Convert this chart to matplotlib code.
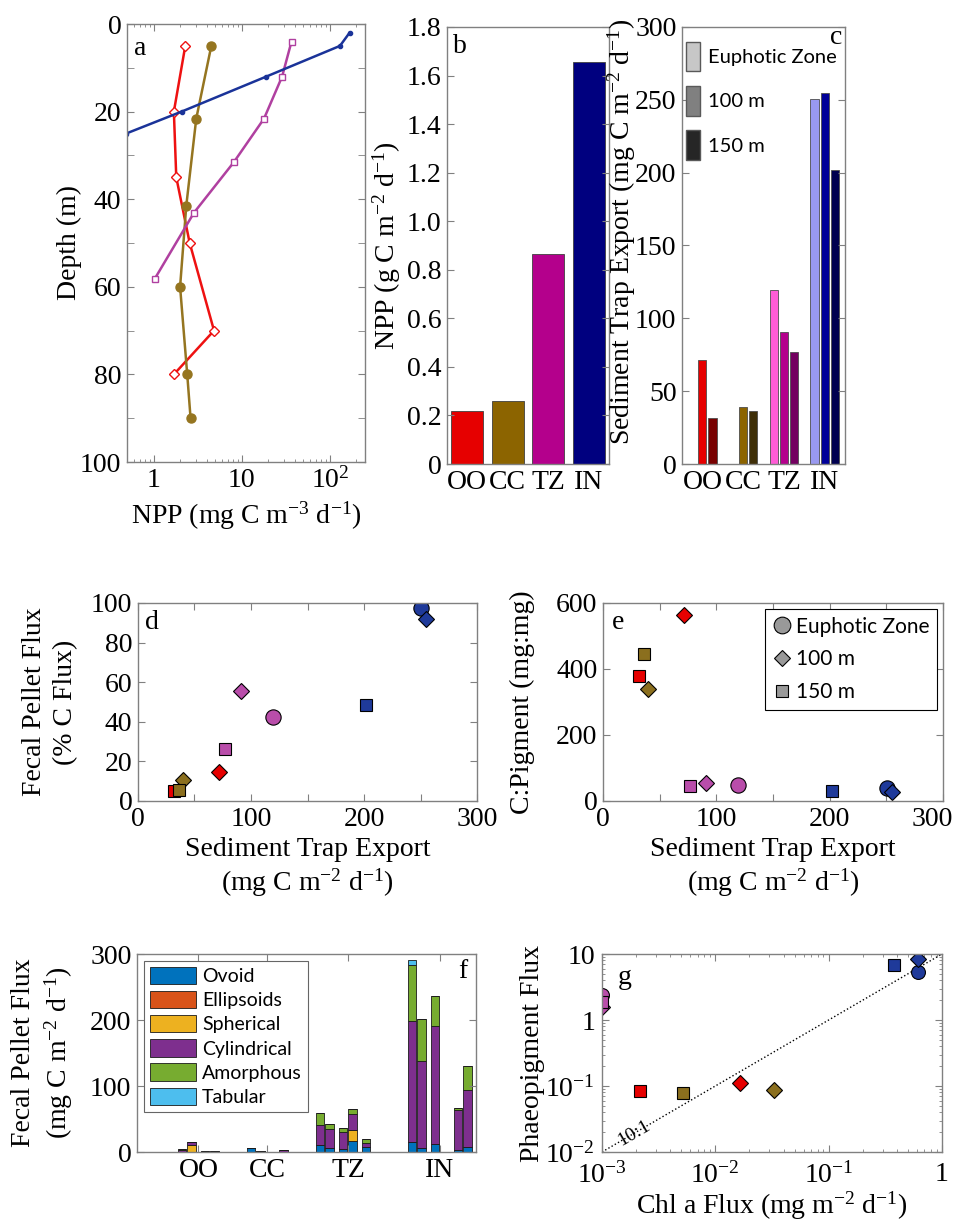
import numpy as np
import matplotlib
matplotlib.use('Agg')
import matplotlib.pyplot as plt
from matplotlib.patches import Patch
from matplotlib.lines import Line2D
from matplotlib.ticker import LogLocator, NullFormatter
from matplotlib.transforms import ScaledTranslation

plt.rcParams['font.family'] = ['Liberation Serif', 'DejaVu Serif']
plt.rcParams['mathtext.fontset'] = 'custom'
plt.rcParams['mathtext.rm'] = 'Liberation Serif'
plt.rcParams['mathtext.it'] = 'Liberation Serif:italic'
plt.rcParams['font.size'] = 20
plt.rcParams['axes.edgecolor'] = '0.5'
plt.rcParams['axes.linewidth'] = 1.0
plt.rcParams['xtick.color'] = '0.5'
plt.rcParams['ytick.color'] = '0.5'
plt.rcParams['xtick.labelcolor'] = 'black'
plt.rcParams['ytick.labelcolor'] = 'black'
SANS = ['Lato', 'DejaVu Sans']

nan = np.nan
regions = ['OO', 'CC', 'TZ', 'IN']

# (a) NPP profiles (mg C m-3 d-1) vs depth (m)
oo_npp = [2.29, 1.70, 1.81, 2.57, 4.85, 1.70]
oo_depth = [5, 20, 35, 50, 70, 80]
cc_npp = [4.52, 3.05, 2.35, 2.0, 2.41, 2.63]
cc_depth = [5, 21.6, 41.5, 60, 80, 90]
tz_npp = [36.7, 28.7, 17.9, 8.1, 2.87, 1.03]
tz_depth = [4, 12, 21.6, 31.6, 43.1, 58.2]
in_npp = [167, 130, 19, 2.08, 0.49]
in_depth = [2, 5, 12, 20, 25]

# (b) integrated NPP (g C m-2 d-1)
npp_int = [0.22, 0.26, 0.865, 1.655]

# (c) sediment trap export (mg C m-2 d-1): euphotic zone, 100 m, 150 m
export_ez = [nan, nan, 119.5, 250.7]
export_100 = [71.5, 39.4, 90.9, 254.9]
export_150 = [31.5, 36.2, 76.7, 202.0]

# (d) fecal pellet flux (% C flux)
fp_pct_ez = [nan, nan, 42.4, 97.6]
fp_pct_100 = [14.6, 10.4, 55.6, 92.1]
fp_pct_150 = [5.0, 5.7, 26.1, 48.3]

# (e) C:pigment (mg:mg)
cpig_ez = [nan, nan, 50, 40]
cpig_100 = [564, 340, 56, 28]
cpig_150 = [379, 446, 45, 29]

# (f) fecal pellet flux by type; cycles per region, each with a 100 m and a 150 m bar
cycles_per_region = [2, 2, 3, 3]
pellet_types = ['Ovoid', 'Ellipsoids', 'Spherical', 'Cylindrical', 'Amorphous', 'Tabular']
ovoid = [0.3, 0.3, 0.5, 0.5, 5.5, 1.0, 0.3, 0.5,
         10.1, 5.6, 4.6, 16.2, 7.6, 0.0, 15.2, 6.6, 11.6, 0.0, 2.5, 7.6]
ellipsoids = [0.0, 0.0, 0.0, 0.0, 0.0, 0.0, 0.0, 0.0,
              0.0, 0.0, 0.0, 0.0, 0.0, 0.0, 0.0, 0.0, 0.0, 0.0, 0.0, 0.0]
spherical = [0.0, 10.0, 0.0, 0.0, 0.0, 0.0, 0.0, 0.0,
             0.0, 0.0, 0.0, 16.7, 0.0, 0.0, 0.0, 0.0, 0.0, 0.0, 0.0, 0.0]
cylindrical = [2.0, 5.0, 0.7, 0.7, 0.5, 0.5, 0.2, 3.0,
               30.4, 28.8, 26.3, 24.3, 6.6, 0.0, 183.0, 131.0, 179.1, 0.0, 60.7, 86.0]
amorphous = [3.0, 0.0, 0.0, 0.0, 0.0, 0.0, 0.0, 0.0,
             19.2, 8.1, 6.0, 7.5, 6.0, 0.0, 84.5, 63.2, 45.0, 0.0, 3.1, 36.4]
tabular = [0.0, 0.0, 0.0, 0.0, 0.0, 0.0, 0.0, 0.0,
           0.0, 0.0, 0.0, 0.0, 0.0, 0.0, 8.0, 0.0, 0.0, 0.0, 0.0, 0.0]

# (g) Chl a flux vs phaeopigment flux (mg m-2 d-1)
chl_ez = [nan, nan, 0.001, 0.61]
chl_100 = [0.0166, 0.033, 0.001, 0.62]
chl_150 = [0.00218, 0.00515, 0.001, 0.38]
phaeo_ez = [nan, nan, 2.4, 5.4]
phaeo_100 = [0.111, 0.086, 1.6, 8.3]
phaeo_150 = [0.083, 0.079, 1.9, 6.8]

# colours
line_cols = ['#EE1111', '#957520', '#B040A0', '#1A3399']
bar_cols = ['#E60000', '#8C6400', '#B4008C', '#00007F']
c_cols = [[None, '#E60000', '#780000'],
          [None, '#8C6400', '#3F2F08'],
          ['#FF5CD6', '#B4008C', '#730060'],
          ['#9999F0', '#000099', '#000050']]
mk_cols = ['#E60000', '#8B6F1E', '#B94DAA', '#1F3A9A']
type_cols = ['#0072BD', '#D95319', '#EDB120', '#7E2F8E', '#77AC30', '#4DBEEE']

W, H = 954, 1224
fig = plt.figure(figsize=(W / 100, H / 100), dpi=100)


def box(l, t, r, b):
    return [l / W, 1 - b / H, (r - l) / W, (b - t) / H]


def style(ax):
    ax.tick_params(which='both', direction='in', top=True, right=True, pad=4)
    ax.tick_params(which='major', length=5)
    ax.tick_params(which='minor', length=2.5)


# ---------- a ----------
ax = fig.add_axes(box(127, 24, 365, 462))
ax.plot(oo_npp, oo_depth, '-D', color=line_cols[0], mfc='white', mec=line_cols[0], ms=5, lw=1.8)
ax.plot(cc_npp, cc_depth, '-o', color=line_cols[1], ms=6.5, lw=1.8)
ax.plot(tz_npp, tz_depth, '-s', color=line_cols[2], mfc='white', mec=line_cols[2], ms=5, lw=1.8)
ax.plot(in_npp, in_depth, '-o', color=line_cols[3], ms=3, lw=1.8)
ax.set_xscale('log')
ax.set_xlim(0.5, 250)
ax.set_ylim(100, 0)
ax.set_xticks([1, 10, 100])
ax.set_xticklabels(['1', '10', '10$^2$'])
ax.set_yticks(np.arange(0, 101, 20))
ax.set_yticks(np.arange(10, 100, 20), minor=True)
style(ax)
ax.tick_params(which='minor', axis='y', length=5)
ax.set_ylabel('Depth (m)')
ax.yaxis.set_label_coords(-0.19, 0.5)
ax.set_xlabel('NPP (mg C m$^{-3}$ d$^{-1}$)', labelpad=4)
ax.text(0.03, 0.945, 'a', transform=ax.transAxes, va='center', ha='left')

# ---------- b ----------
ax = fig.add_axes(box(447, 27, 609, 464))
xb = np.arange(1, 5)
ax.bar(xb, npp_int, width=0.8, color=bar_cols, edgecolor='0.25', linewidth=0.6)
ax.set_xlim(0.5, 4.5)
ax.set_ylim(0, 1.8)
ax.set_yticks(np.arange(0, 1.81, 0.2))
ax.set_yticklabels(['0'] + ['%.1f' % v for v in np.arange(0.2, 1.81, 0.2)])
ax.set_xticks(xb)
ax.set_xticklabels(regions)
style(ax)
ax.tick_params(axis='x', length=0)
ax.set_ylabel('NPP (g C m$^{-2}$ d$^{-1}$)')
ax.yaxis.set_label_coords(-0.27, 0.5)
ax.text(0.04, 0.955, 'b', transform=ax.transAxes, va='center', ha='left')

# ---------- c ----------
ax = fig.add_axes(box(682, 27, 845, 464))
exports = [export_ez, export_100, export_150]
offs = [-0.25, 0.0, 0.25]
for j in range(3):
    for i in range(4):
        v = exports[j][i]
        if np.isnan(v):
            continue
        ax.bar(xb[i] + offs[j], v, width=0.2, color=c_cols[i][j], edgecolor='0.3', linewidth=0.6)
ax.set_xlim(0.5, 4.5)
ax.set_ylim(0, 300)
ax.set_yticks(np.arange(0, 301, 50))
ax.set_xticks(xb)
ax.set_xticklabels(regions)
style(ax)
ax.tick_params(axis='x', length=0)
ax.set_ylabel('Sediment Trap Export (mg C m$^{-2}$ d$^{-1}$)')
ax.yaxis.set_label_coords(-0.27, 0.53)
hc = [Patch(facecolor=g, edgecolor='0.35') for g in ['0.78', '0.5', '0.15']]
ax.legend(hc, ['Euphotic Zone', '100 m', '150 m'], loc='upper left', frameon=False,
          bbox_to_anchor=(-0.025, 0.985),
          handlelength=0.7, handleheight=1.9, labelspacing=0.72, handletextpad=0.4,
          borderaxespad=0.1, borderpad=0.3, prop={'family': SANS, 'size': 14.5})
ax.text(0.985, 0.975, 'c', transform=ax.transAxes, va='center', ha='right')

# ---------- d ----------
mk = ['o', 'D', 's']
ms = [11, 8, 8.5]


def scatter_sets(ax, xs, ys, sizes=ms):
    for i in range(4):
        for j in range(3):
            if np.isnan(xs[j][i]) or np.isnan(ys[j][i]):
                continue
            ax.plot(xs[j][i], ys[j][i], mk[j], ms=sizes[j], mfc=mk_cols[i], mec='black', mew=0.8)


ax = fig.add_axes(box(138, 603, 477, 801))
scatter_sets(ax, exports, [fp_pct_ez, fp_pct_100, fp_pct_150])
ax.set_xlim(0, 300)
ax.set_ylim(0, 100)
ax.set_xticks(np.arange(0, 301, 50))
ax.set_xticklabels(['0', '', '100', '', '200', '', '300'])
ax.set_yticks(np.arange(0, 101, 20))
style(ax)
ax.set_ylabel('Fecal Pellet Flux\n(% C Flux)', linespacing=1.3)
ax.yaxis.set_label_coords(-0.177, 0.5)
ax.set_xlabel('Sediment Trap Export\n(mg C m$^{-2}$ d$^{-1}$)', linespacing=1.2)
ax.text(0.02, 0.9, 'd', transform=ax.transAxes, va='center', ha='left')

# ---------- e ----------
ax = fig.add_axes(box(603, 603, 943, 801))
scatter_sets(ax, exports, [cpig_ez, cpig_100, cpig_150])
ax.set_xlim(0, 300)
ax.set_ylim(0, 600)
ax.set_xticks(np.arange(0, 301, 50))
ax.set_xticklabels(['0', '', '100', '', '200', '', '300'])
ax.set_yticks(np.arange(0, 601, 200))
style(ax)
last = ax.get_xticklabels()[-1]
last.set_transform(last.get_transform() + ScaledTranslation(-0.11, 0, fig.dpi_scale_trans))
ax.set_ylabel('C:Pigment (mg:mg)')
ax.yaxis.set_label_coords(-0.2, 0.5)
ax.set_xlabel('Sediment Trap Export\n(mg C m$^{-2}$ d$^{-1}$)', linespacing=1.2)
he = [Line2D([], [], ls='', marker=m, ms=s, mfc='0.6', mec='black', mew=0.8)
      for m, s in zip(mk, [12, 8.5, 8])]
leg = ax.legend(he, ['Euphotic Zone', '100 m', '150 m'], loc='upper right', fancybox=False,
                edgecolor='black', framealpha=1, handlelength=1.0, handletextpad=0.15,
                labelspacing=0.62, borderpad=0.35, borderaxespad=0.3,
                prop={'family': SANS, 'size': 15})
leg.get_frame().set_linewidth(0.8)
ax.text(0.027, 0.9, 'e', transform=ax.transAxes, va='center', ha='left')

# ---------- f ----------
ax = fig.add_axes(box(137, 954, 476, 1152))
slot = []
centers = []
pos = 1
for n in cycles_per_region:
    cyc = np.arange(pos, pos + n)
    centers.append(cyc.mean())
    for c in cyc:
        slot += [c - 0.2, c + 0.2]
    pos += n + 1
slot = np.array(slot)
stack = [ovoid, ellipsoids, spherical, cylindrical, amorphous, tabular]
bottom = np.zeros(len(slot))
for vals, col, name in zip(stack, type_cols, pellet_types):
    vals = np.array(vals)
    ax.bar(slot, vals, bottom=bottom, width=0.35, color=col, edgecolor='0.1',
           linewidth=0.6, label=name)
    bottom += vals
ax.set_xlim(-1.17, 13.57)
ax.set_ylim(0, 300)
ax.set_yticks([0, 100, 200, 300])
ax.set_xticks(centers)
ax.set_xticklabels(regions)
style(ax)
ax.tick_params(axis='x', direction='in', length=5)
ax.set_ylabel('Fecal Pellet Flux\n(mg C m$^{-2}$ d$^{-1}$)', linespacing=1.25)
ax.yaxis.set_label_coords(-0.183, 0.5)
leg = ax.legend(loc='upper left', fancybox=False, edgecolor='0.4', framealpha=1,
                handlelength=2.4, handleheight=1.0, labelspacing=0.3, handletextpad=0.3,
                borderpad=0.3, borderaxespad=0.35, prop={'family': SANS, 'size': 14})
leg.get_frame().set_linewidth(0.8)
ax.text(0.976, 0.91, 'f', transform=ax.transAxes, va='center', ha='right')

# ---------- g ----------
ax = fig.add_axes(box(602, 954, 942, 1152))
chl = [chl_ez, chl_100, chl_150]
pha = [phaeo_ez, phaeo_100, phaeo_150]
ref = np.array([1e-3, 1.0])
ax.plot(ref, ref * 10, ':', color='black', lw=1)
scatter_sets(ax, chl, pha, sizes=[10, 8.5, 8.5])
ax.set_xscale('log')
ax.set_yscale('log')
ax.set_xlim(1e-3, 1)
ax.set_ylim(1e-2, 10)
ax.set_xticks([1e-3, 1e-2, 1e-1, 1])
ax.set_xticklabels(['10$^{-3}$', '10$^{-2}$', '10$^{-1}$', '1'])
ax.set_yticks([1e-2, 1e-1, 1, 10])
ax.set_yticklabels(['10$^{-2}$', '10$^{-1}$', '1', '10'])
ax.xaxis.set_minor_locator(LogLocator(base=10, subs=np.arange(2, 10)))
ax.yaxis.set_minor_locator(LogLocator(base=10, subs=np.arange(2, 10)))
ax.xaxis.set_minor_formatter(NullFormatter())
ax.yaxis.set_minor_formatter(NullFormatter())
style(ax)
ax.tick_params(axis='x', which='major', pad=7)
ax.tick_params(axis='y', which='major', pad=5)
ang = np.degrees(np.arctan(198 / 340))
ax.text(1.92e-3, 0.0192, '10:1', rotation=ang, ha='center', va='center', fontsize=14,
        rotation_mode='anchor')
ax.set_ylabel('Phaeopigment Flux')
ax.yaxis.set_label_coords(-0.168, 0.5)
ax.set_xlabel('Chl a Flux (mg m$^{-2}$ d$^{-1}$)', labelpad=1)
ax.text(0.047, 0.88, 'g', transform=ax.transAxes, va='center', ha='left')

fig.savefig('out.png', dpi=100)
